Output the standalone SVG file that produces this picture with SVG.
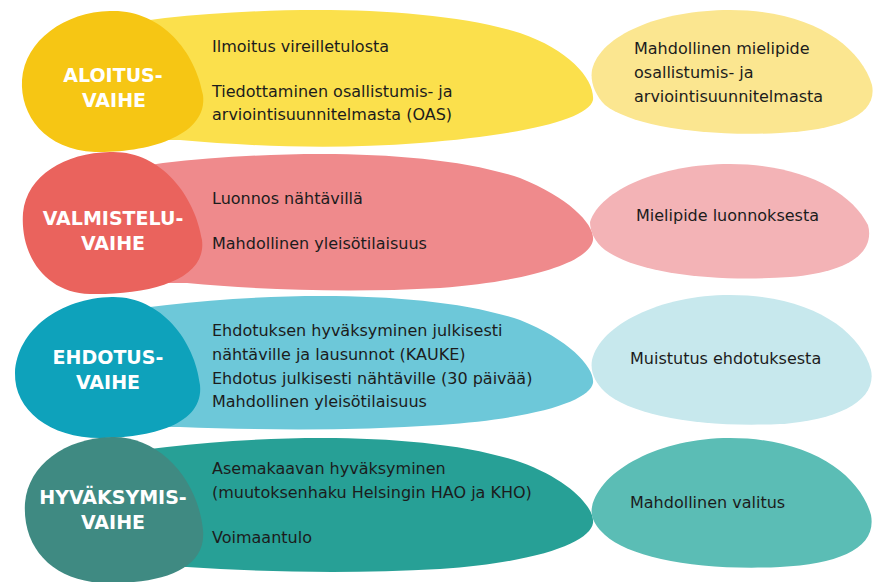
<svg xmlns="http://www.w3.org/2000/svg" width="877" height="582" viewBox="0 0 877 582">
<style>
.body{font-family:"DejaVu Sans","Verdana",sans-serif;font-size:16px;fill:#1c1c1c}
.lab{font-family:"DejaVu Sans","Verdana",sans-serif;font-size:19px;font-weight:bold;fill:#ffffff;text-anchor:middle}
</style>
<rect width="877" height="582" fill="#ffffff"/>
<!-- Row 1 -->
<g id="aloitus-actions">
<path d="M150,20 L165,18 C280,6 430,5 520,33 C570,50 595,80 593,100 C588,120 520,135 420,143 C330,150 250,146 180,140 L150,140 Z" fill="#fbe04c"/>
<text class="body" x="212" y="52">Ilmoitus vireilletulosta</text>
<text class="body" x="212" y="97">Tiedottaminen osallistumis- ja</text>
<text class="body" x="212" y="120">arviointisuunnitelmasta (OAS)</text>
</g>
<g id="aloitus-phase">
<path d="M110,11 C160,9 195,50 203,95 C208,135 150,153 95,152 C45,150 20,115 22,80 C25,40 65,12 110,11 Z" fill="#f6c614"/>
<text class="lab" x="113" y="82">ALOITUS-</text>
<text class="lab" x="114" y="107">VAIHE</text>
</g>
<g id="aloitus-feedback">
<path d="M592,70 C600,35 660,10 730,10 C810,10 860,45 872,85 C878,115 840,130 780,133 C700,137 630,125 605,105 C595,95 590,82 592,70 Z" fill="#fbe690"/>
<text class="body" x="634" y="54">Mahdollinen mielipide</text>
<text class="body" x="634" y="78">osallistumis- ja</text>
<text class="body" x="634" y="102">arviointisuunnitelmasta</text>
</g>
<!-- Row 2 -->
<g id="valmistelu-actions">
<path d="M150,165 L163,163 C280,150 430,148 520,178 C570,198 595,225 593,240 C590,260 540,280 440,288 C350,293 260,290 187,283 L150,283 Z" fill="#ef8a8c"/>
<text class="body" x="212" y="204">Luonnos nähtävillä</text>
<text class="body" x="212" y="249">Mahdollinen yleisötilaisuus</text>
</g>
<g id="valmistelu-phase">
<path d="M110,152 C160,150 195,195 202,240 C207,280 150,295 90,294 C45,293 20,255 23,213 C27,175 65,153 110,152 Z" fill="#ea635d"/>
<text class="lab" x="113" y="225">VALMISTELU-</text>
<text class="lab" x="113" y="250">VAIHE</text>
</g>
<g id="valmistelu-feedback">
<path d="M590,222 C600,190 660,164 730,164 C800,164 850,190 868,225 C875,252 850,272 790,277 C720,282 640,275 605,250 C595,242 590,232 590,222 Z" fill="#f3b3b6"/>
<text class="body" x="636" y="221">Mielipide luonnoksesta</text>
</g>
<!-- Row 3 -->
<g id="ehdotus-actions">
<path d="M150,307 L167,305 C280,292 430,290 520,320 C570,340 595,368 593,383 C590,400 540,418 440,425 C350,431 260,430 180,427 L150,427 Z" fill="#6dc8d9"/>
<text class="body" x="212" y="336">Ehdotuksen hyväksyminen julkisesti</text>
<text class="body" x="212" y="360">nähtäville ja lausunnot (KAUKE)</text>
<text class="body" x="212" y="384">Ehdotus julkisesti nähtäville (30 päivää)</text>
<text class="body" x="212" y="407">Mahdollinen yleisötilaisuus</text>
</g>
<g id="ehdotus-phase">
<path d="M112,297 C160,296 195,340 200,385 C204,425 150,438 100,438 C50,438 14,410 15,373 C17,330 60,298 112,297 Z" fill="#0ea2bb"/>
<text class="lab" x="108" y="364">EHDOTUS-</text>
<text class="lab" x="108" y="389">VAIHE</text>
</g>
<g id="ehdotus-feedback">
<path d="M592,360 C600,325 660,295 730,295 C810,295 860,330 871,370 C877,400 840,420 780,424 C700,428 630,415 605,392 C595,382 590,372 592,360 Z" fill="#c7e8ed"/>
<text class="body" x="630" y="364">Muistutus ehdotuksesta</text>
</g>
<!-- Row 4 -->
<g id="hyvaksymis-actions">
<path d="M150,449 L167,447 C280,434 430,432 520,462 C570,480 595,508 593,523 C590,542 540,562 440,569 C350,574 260,572 187,567 L150,567 Z" fill="#27a096"/>
<text class="body" x="212" y="474">Asemakaavan hyväksyminen</text>
<text class="body" x="212" y="498">(muutoksenhaku Helsingin HAO ja KHO)</text>
<text class="body" x="212" y="543">Voimaantulo</text>
</g>
<g id="hyvaksymis-phase">
<path d="M112,437 C160,436 198,480 203,530 C207,570 160,584 105,583 C55,582 22,550 25,503 C28,465 65,438 112,437 Z" fill="#3f8a82"/>
<text class="lab" x="113" y="504">HYVÄKSYMIS-</text>
<text class="lab" x="113" y="529">VAIHE</text>
</g>
<g id="hyvaksymis-feedback">
<path d="M592,507 C600,470 660,438 730,438 C810,438 860,475 871,515 C877,548 840,564 780,567 C700,571 630,558 605,535 C595,526 590,517 592,507 Z" fill="#5bbdb5"/>
<text class="body" x="630" y="508">Mahdollinen valitus</text>
</g>
<g id="connectors"></g>
</svg>
